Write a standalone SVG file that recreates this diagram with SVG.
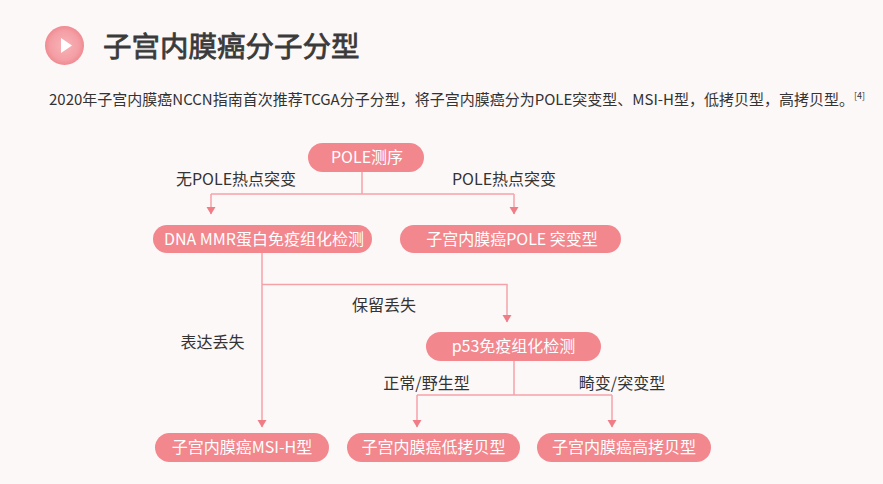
<svg xmlns="http://www.w3.org/2000/svg" width="883" height="484" viewBox="0 0 883 484">
<defs>
<radialGradient id="ig" cx="50%" cy="50%" r="50%">
<stop offset="0" stop-color="#f7b4b8"/>
<stop offset="0.75" stop-color="#f49ea4"/>
<stop offset="1" stop-color="#f08a92"/>
</radialGradient>
<marker id="ah" markerUnits="userSpaceOnUse" markerWidth="10" markerHeight="10" refX="7" refY="0" orient="auto" overflow="visible">
<path d="M0,-4.5 L7.5,0 L0,4.5 z" fill="#f07c86"/>
</marker>
<style>
text{font-family:"Noto Sans CJK SC","Noto Sans",sans-serif;}
.box{fill:#f2878e;}
.bt{fill:#ffffff;font-size:16px;text-anchor:middle;}
.lb{fill:#333333;font-size:16px;text-anchor:middle;}
.ln{fill:none;stroke:#f4a2a8;stroke-width:1.5;}
</style>
</defs>
<rect x="0" y="0" width="883" height="484" fill="#fdf8f8"/>
<g id="header">
<circle cx="64.5" cy="45.5" r="19.5" fill="url(#ig)"/>
<path d="M61,38 L72,45.5 L61,53 z" fill="#ffffff"/>
<text x="103" y="57" font-size="28.5" font-weight="normal" fill="#3a3a3a" stroke="#3a3a3a" stroke-width="0.8">子宫内膜癌分子分型</text>
<text x="49" y="105" font-size="15" fill="#333333">2020年子宫内膜癌NCCN指南首次推荐TCGA分子分型，将子宫内膜癌分为POLE突变型、MSI-H型，低拷贝型，高拷贝型。<tspan font-size="9" dy="-6">[4]</tspan></text>
</g>
<g id="connectors">
<path class="ln" d="M362,172 V194"/>
<path class="ln" d="M211,194 H514"/>
<path class="ln" d="M211,194 V214" marker-end="url(#ah)"/>
<path class="ln" d="M514,194 V214" marker-end="url(#ah)"/>
<path class="ln" d="M262,253 V427" marker-end="url(#ah)"/>
<path class="ln" d="M262,284.5 H507 V322" marker-end="url(#ah)"/>
<path class="ln" d="M514,361 V395"/>
<path class="ln" d="M417,395 H612"/>
<path class="ln" d="M417,395 V427" marker-end="url(#ah)"/>
<path class="ln" d="M612,395 V427" marker-end="url(#ah)"/>
</g>
<g id="labels">
<text class="lb" x="236" y="184.5">无POLE热点突变</text>
<text class="lb" x="504" y="184.5">POLE热点突变</text>
<text class="lb" x="384" y="310.5">保留丢失</text>
<text class="lb" x="212.5" y="347.5">表达丢失</text>
<text class="lb" x="426.5" y="388.5">正常/野生型</text>
<text class="lb" x="622" y="388.5">畸变/突变型</text>
</g>
<g id="n-pole-seq">
<rect class="box" x="308" y="143" width="116" height="29" rx="14.5"/>
<text class="bt" x="367" y="163">POLE测序</text>
</g>
<g id="n-mmr">
<rect class="box" x="153" y="225" width="219" height="28" rx="14"/>
<text class="bt" x="264" y="244.5">DNA MMR蛋白免疫组化检测</text>
</g>
<g id="n-pole-mut">
<rect class="box" x="400" y="225" width="221" height="28" rx="14"/>
<text class="bt" x="512" y="244.5">子宫内膜癌POLE 突变型</text>
</g>
<g id="n-p53">
<rect class="box" x="426" y="332" width="175" height="29" rx="14.5"/>
<text class="bt" x="513.5" y="352">p53免疫组化检测</text>
</g>
<g id="n-msi">
<rect class="box" x="155" y="433" width="174" height="29" rx="14.5"/>
<text class="bt" x="242" y="453">子宫内膜癌MSI-H型</text>
</g>
<g id="n-low">
<rect class="box" x="347" y="433" width="173" height="29" rx="14.5"/>
<text class="bt" x="433.5" y="453">子宫内膜癌低拷贝型</text>
</g>
<g id="n-high">
<rect class="box" x="537" y="433" width="174" height="29" rx="14.5"/>
<text class="bt" x="624" y="453">子宫内膜癌高拷贝型</text>
</g>
</svg>
